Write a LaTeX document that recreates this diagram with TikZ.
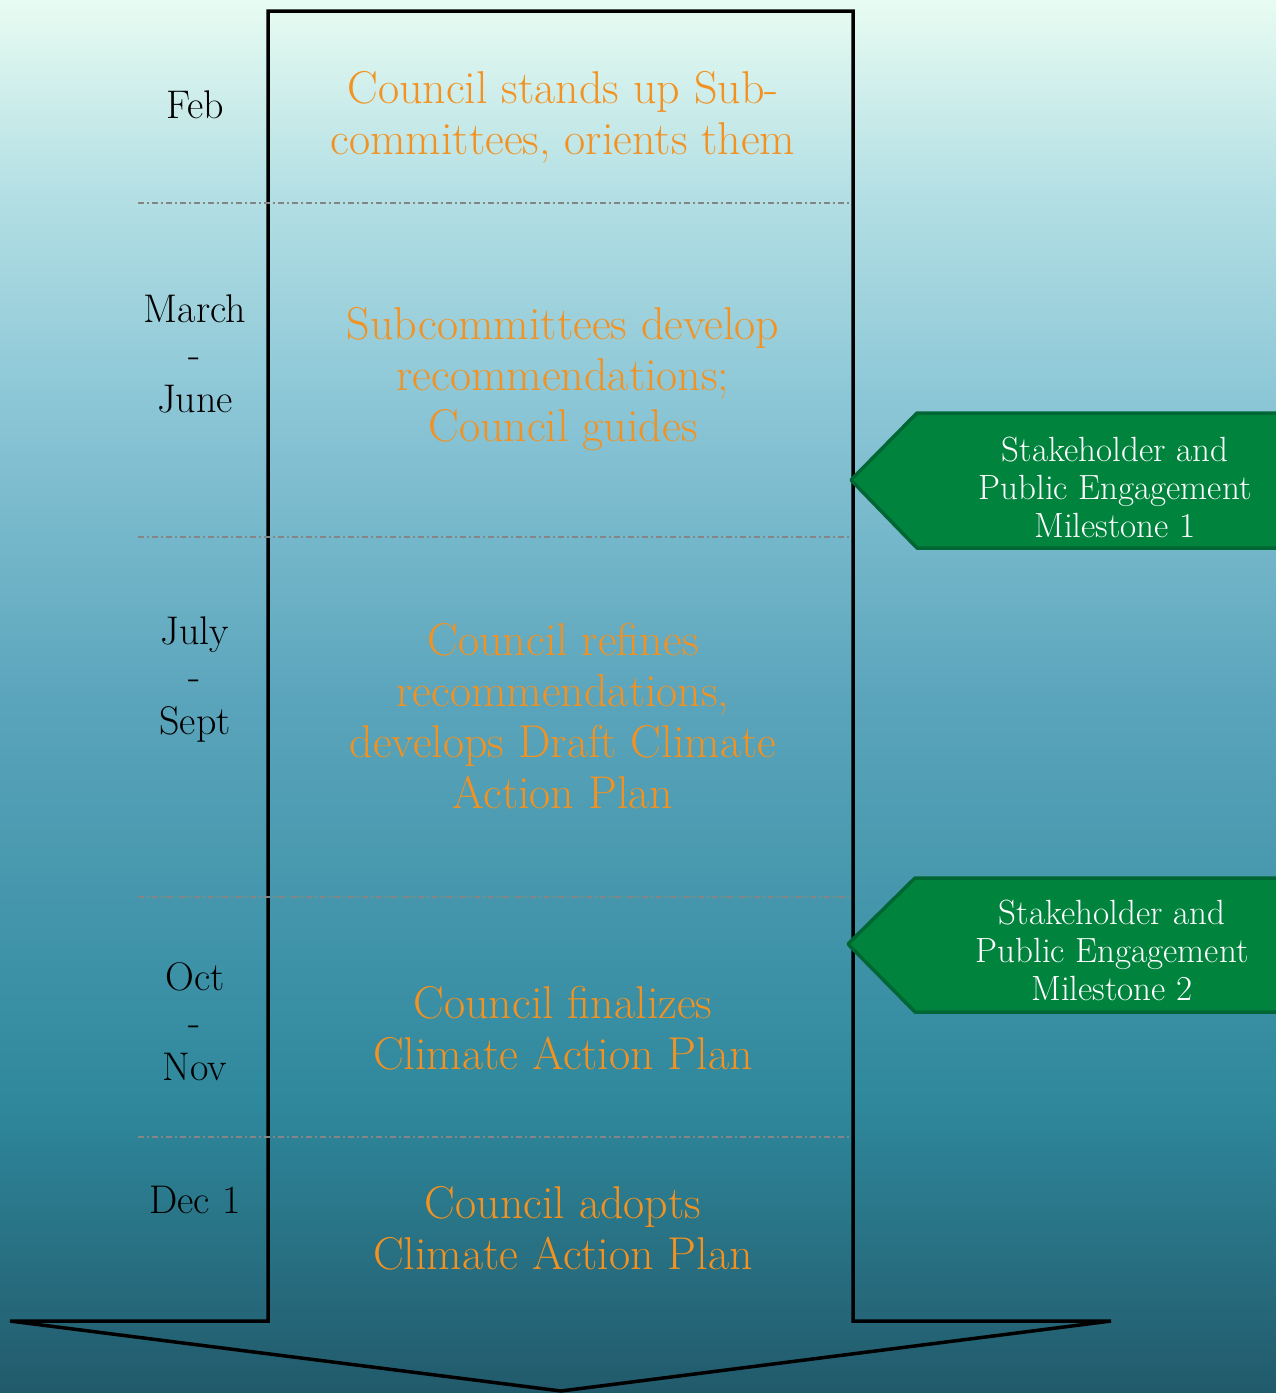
\documentclass[tikz,border=0pt]{standalone}
\usepackage{xcolor}
\definecolor{bgA}{HTML}{215A6B}
\definecolor{bgB}{HTML}{2F889C}
\definecolor{bgC}{HTML}{5BA5BC}
\definecolor{bgD}{HTML}{8BC6D6}
\definecolor{bgE}{HTML}{B3DFE4}
\definecolor{bgF}{HTML}{E8FCF2}
\definecolor{orangetxt}{HTML}{F39220}
\definecolor{greenfill}{HTML}{00843D}
\definecolor{greenline}{HTML}{006633}
\definecolor{divgray}{HTML}{858585}
\pgfdeclareverticalshading{bgshade}{100bp}{color(0bp)=(bgA); color(25bp)=(bgA); color(35.5bp)=(bgB); color(50bp)=(bgC); color(60.5bp)=(bgD); color(68bp)=(bgE); color(75bp)=(bgF); color(100bp)=(bgF)}
\tikzset{
  month/.style={font=\fontsize{40}{45}\selectfont, text=black, align=center, inner sep=0pt},
  task/.style={font=\fontsize{46}{51}\selectfont, text=orangetxt, align=center, inner sep=0pt},
  mile/.style={font=\fontsize{35}{38}\selectfont, text=white, align=center, inner sep=0pt},
  milebox/.style={fill=greenfill, draw=greenline, line width=3.5pt, line join=round},
  divider/.style={draw=divgray, line width=2pt, dash pattern=on 6pt off 3pt on 2pt off 3pt},
  bigarrow/.style={draw=black, line width=3.5pt, line join=miter}
}
\begin{document}
\begin{tikzpicture}[x=1pt,y=-1pt]
\useasboundingbox (0,0) rectangle (1276,1393);
\shade[shading=bgshade] (0,0) rectangle (1276,1393);
% big arrow
\draw[bigarrow] (268,11) -- (853,11) -- (853,1321) -- (1111,1321) -- (561,1391) -- (10,1321) -- (268,1321) -- cycle;
% dividers
\coordinate (d1a) at (138,203); \coordinate (d1b) at (850,203);
\coordinate (d2a) at (138,537); \coordinate (d2b) at (850,537);
\coordinate (d3a) at (138,897); \coordinate (d3b) at (850,897);
\coordinate (d4a) at (138,1137); \coordinate (d4b) at (850,1137);
\draw[divider] (d1a) -- (d1b);
\draw[divider] (d2a) -- (d2b);
\draw[divider] (d3a) -- (d3b);
\draw[divider] (d4a) -- (d4b);
% months
\node[month] (m1) at (195,105) {Feb};
\node[month] (m2) at (195,354) {March\\-\\June};
\node[month] (m3) at (195,680) {July\\-\\Sept};
\node[month] (m4) at (195,1022) {Oct\\-\\Nov};
\node[month] (m5) at (195,1200) {Dec 1};
% tasks
\node[task] (t1) at (563,117) {Council stands up Sub-\\committees, orients them};
\node[task] (t2) at (563,379) {Subcommittees develop\\recommendations;\\Council guides};
\node[task] (t3) at (563,716) {Council refines\\recommendations,\\develops Draft Climate\\Action Plan};
\node[task] (t4) at (563,1028) {Council finalizes\\Climate Action Plan};
\node[task] (t5) at (563,1228) {Council adopts\\Climate Action Plan};
% milestones
\draw[milebox] (851,480) -- (917,413) -- (1290,413) -- (1290,548) -- (917,548) -- cycle;
\node[mile] (g1) at (1115,487) {Stakeholder and\\Public Engagement\\Milestone 1};
\draw[milebox] (848,944) -- (915,878) -- (1290,878) -- (1290,1012) -- (915,1012) -- cycle;
\node[mile] (g2) at (1112,950) {Stakeholder and\\Public Engagement\\Milestone 2};
\end{tikzpicture}
\end{document}
